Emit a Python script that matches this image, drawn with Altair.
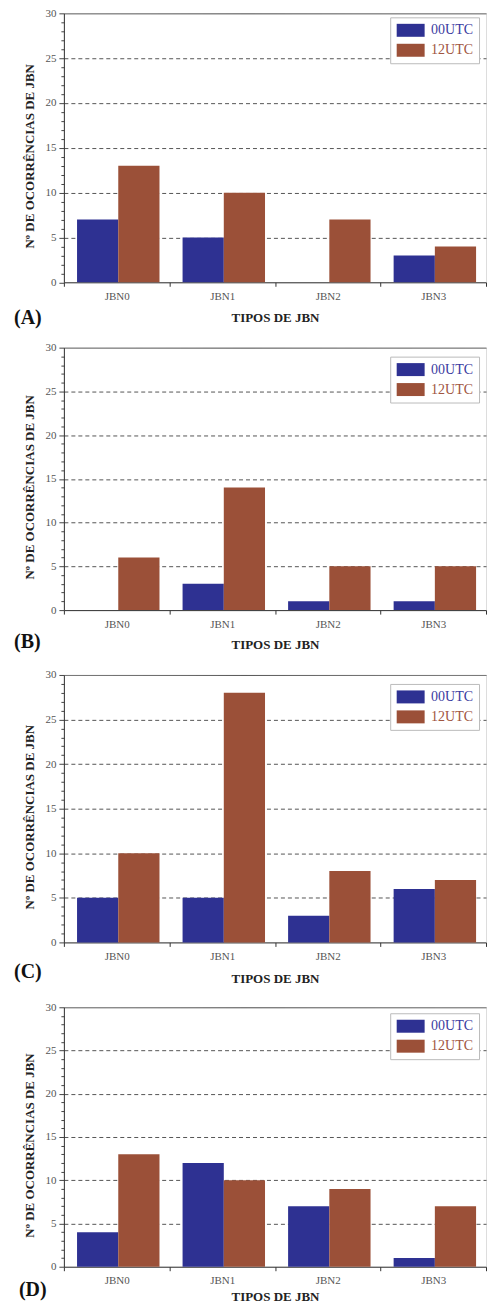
import altair as alt
import pandas as pd

categories = ["JBN0", "JBN1", "JBN2", "JBN3"]
series = ["00UTC", "12UTC"]
y_ticks = list(range(0, 31))

a_00 = [7, 5, 0, 3]
a_12 = [13, 10, 7, 4]
b_00 = [0, 3, 1, 1]
b_12 = [6, 14, 5, 5]
c_00 = [5, 5, 3, 6]
c_12 = [10, 28, 8, 7]
d_00 = [4, 12, 7, 1]
d_12 = [13, 10, 9, 7]

panel_labels = ["(A)", "(B)", "(C)", "(D)"]

BLUE = "#2e3192"
BROWN = "#9b5038"
FONT = "Liberation Serif"
W = 423


def make_df(v00, v12):
    rows = []
    for c, v in zip(categories, v00):
        rows.append({"tipo": c, "hora": "00UTC", "n": v})
    for c, v in zip(categories, v12):
        rows.append({"tipo": c, "hora": "12UTC", "n": v})
    return pd.DataFrame(rows)


def panel(v00, v12, label, h, title_pad, lab_dx, lab_dy, leg_y):
    df = make_df(v00, v12)
    bars = alt.Chart(df).mark_bar().encode(
        x=alt.X(
            "tipo:N",
            sort=categories,
            scale=alt.Scale(domain=categories, paddingInner=0, paddingOuter=0),
            axis=alt.Axis(
                title="TIPOS DE JBN",
                labelAngle=0,
                tickBand="extent",
                tickSize=4,
                tickColor="#333",
                domainColor="#333",
                labelPadding=4,
                labelFont=FONT,
                labelFontSize=11,
                labelColor="#555",
                titleFont=FONT,
                titleFontSize=13,
                titleFontWeight="bold",
                titleColor="#222",
                titlePadding=title_pad,
            ),
        ),
        xOffset=alt.XOffset(
            "hora:N",
            scale=alt.Scale(domain=series, paddingInner=0, paddingOuter=0.28, align=0.57),
        ),
        y=alt.Y(
            "n:Q",
            scale=alt.Scale(domain=[0, 30], nice=False),
            axis=alt.Axis(
                title="Nº DE OCORRÊNCIAS DE JBN",
                values=y_ticks,
                labelExpr="datum.value % 5 === 0 ? datum.label : ''",
                tickSize={"condition": {"test": "datum.value % 5 === 0", "value": 5}, "value": 3},
                tickColor="#444",
                domainColor="#333",
                labelPadding=3,
                labelFont=FONT,
                labelFontSize=11,
                labelColor="#555",
                grid=True,
                gridColor="#555",
                gridWidth=1,
                gridOpacity={"condition": {"test": "datum.value % 5 === 0 && datum.value > 0", "value": 1}, "value": 0},
                gridDash={"condition": {"test": "datum.value === 30", "value": [1, 0]}, "value": [4, 3]},
                titleFont=FONT,
                titleFontSize=13,
                titleFontWeight="bold",
                titleColor="#222",
                titlePadding=8,
                titleY=h / 2 + 8,
            ),
        ),
        color=alt.Color(
            "hora:N",
            scale=alt.Scale(domain=series, range=[BLUE, BROWN]),
            legend=alt.Legend(
                title=None,
                orient="none",
                legendX=W - 8 - 88,
                legendY=leg_y,
                padding=6,
                rowPadding=6,
                symbolType="M-1,-1H3.308V1H-1Z",
                symbolSize=169,
                symbolStrokeWidth=0,
                labelFont=FONT,
                labelFontSize=14,
                labelOffset=21,
                labelColor=alt.ExprRef("datum.label === '00UTC' ? '#3a3aa0' : '#a0553f'"),
                strokeColor="#bbb",
                fillColor="white",
            ),
        ),
    )
    txt = alt.Chart(pd.DataFrame({"lab": [label]})).mark_text(
        font=FONT, fontSize=20, fontWeight="bold", align="left", baseline="middle", color="#111"
    ).encode(
        x=alt.value(lab_dx),
        y=alt.value(h + lab_dy),
        text="lab:N",
    )
    return alt.layer(bars, txt).properties(width=W, height=h)


pA = panel(a_00, a_12, panel_labels[0], 269.5, 10, -50, 36, 4)
pB = panel(b_00, b_12, panel_labels[1], 263, 9, -50, 32, 9)
pC = panel(c_00, c_12, panel_labels[2], 268, 11, -50, 30, 9)
pD = panel(d_00, d_12, panel_labels[3], 260, 5, -45, 23, 6)

chart = (
    alt.vconcat(pA, pB, pC, pD, spacing=65, bounds="flush")
    .resolve_scale(color="independent")
    .properties(padding={"left": 5, "top": -3, "right": 0, "bottom": 0})
    .configure_view(strokeWidth=0)
    .configure_axis(labelFont=FONT, titleFont=FONT)
    .configure_legend(labelFont=FONT)
    .configure(background="white")
)

chart.save("out.html", embed_options={"renderer": "svg", "actions": False})
